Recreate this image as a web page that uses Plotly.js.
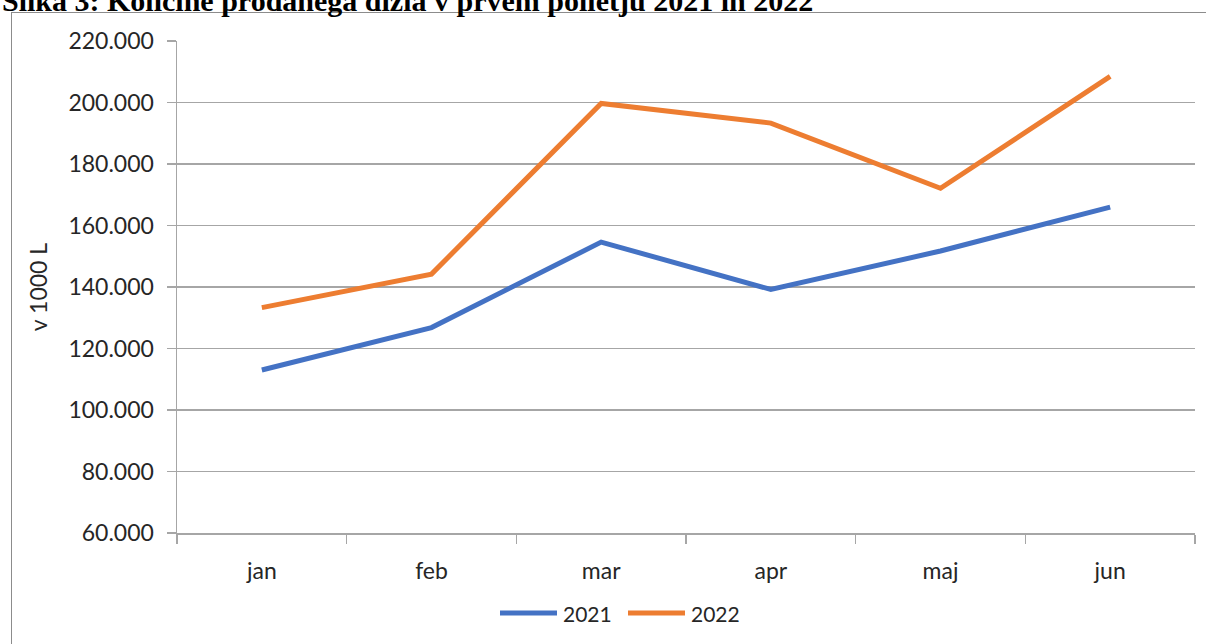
<!DOCTYPE html>
<html>
<head>
<meta charset="utf-8">
<script src="https://cdn.plot.ly/plotly-3.0.1.min.js"></script>
<style>
  html, body { margin: 0; padding: 0; background: #ffffff; overflow: hidden; }
  #frame { position: absolute; left: 11px; top: 12px; width: 1400px; height: 800px;
           border: 1px solid #8c8c8c; box-sizing: border-box; }
  #chart { position: absolute; left: 0; top: 0; width: 1206px; height: 644px; }
</style>
</head>
<body>
<div id="frame"></div>
<div id="chart"></div>
<script>
// Data (values in litres; axis shows thousands with "." separator)
const months = ["jan", "feb", "mar", "apr", "maj", "jun"];
const series2021 = [113000, 126800, 154600, 139200, 151700, 166000];
const series2022 = [133300, 144200, 199700, 193300, 172100, 208500];
const seriesNames = ["2021", "2022"];
const seriesColors = ["#4472C4", "#ED7D31"];
const titleText = "Slika 3: Količine prodanega dizla v prvem polletju 2021 in 2022";
const yTitle = "v 1000 L";

const FONT = "Lato, 'Open Sans', sans-serif";
const TXT = "#262626";

const traces = [
  { x: months, y: series2021, name: seriesNames[0], type: "scatter", mode: "lines",
    line: { color: seriesColors[0], width: 5 } },
  { x: months, y: series2022, name: seriesNames[1], type: "scatter", mode: "lines",
    line: { color: seriesColors[1], width: 5 } }
];

// plot area geometry helpers (pixel -> paper)
const ML = 177, MR = 11, MT = 41, MB = 111, W = 1206, H = 644;
const PW = W - ML - MR, PH = H - MT - MB;
const px = v => (v - ML) / PW;
const py = v => (H - MB - v) / PH;

// custom legend (long line samples like the original)
const legendY = 613;
const legendItems = [
  { x0: 500, x1: 557, tx: 561 },
  { x0: 628, x1: 685, tx: 689 }
];
const shapes = legendItems.map((it, i) => ({
  type: "line", xref: "paper", yref: "paper",
  x0: px(it.x0), x1: px(it.x1), y0: py(legendY), y1: py(legendY),
  line: { color: seriesColors[i], width: 5 }
}));
const annotations = legendItems.map((it, i) => ({
  text: seriesNames[i], xref: "paper", yref: "paper",
  x: px(it.tx), xanchor: "left", y: py(legendY), yanchor: "middle",
  showarrow: false, font: { family: FONT, size: 21, color: TXT }
}));
annotations.push({
  text: "<b>" + titleText + "</b>", xref: "paper", yref: "paper",
  x: px(0), xanchor: "left", y: py(0), yanchor: "middle",
  showarrow: false,
  font: { family: "'Liberation Serif', 'Times New Roman', serif", size: 30, color: "#000000" }
});

const layout = {
  width: W, height: H,
  margin: { l: ML, r: MR, t: MT, b: MB },
  paper_bgcolor: "rgba(0,0,0,0)",
  plot_bgcolor: "rgba(0,0,0,0)",
  separators: ",.",
  font: { family: FONT, size: 23, color: TXT },
  showlegend: false,
  xaxis: {
    type: "category", range: [-0.5, 5.5], fixedrange: true,
    showgrid: false, showline: true, linecolor: "#a6a6a6", linewidth: 1.5,
    ticks: "outside", tickson: "boundaries", ticklen: 9, tickcolor: "#a6a6a6", tickwidth: 1.5,
    tickfont: { family: FONT, size: 23, color: TXT },
    ticklabelstandoff: 17,
    zeroline: false
  },
  yaxis: {
    range: [60000, 220000], dtick: 20000, tickformat: ",d", fixedrange: true,
    showgrid: true, gridcolor: "#a6a6a6", gridwidth: 1.5,
    showline: true, linecolor: "#a6a6a6", linewidth: 1.5,
    ticks: "outside", ticklen: 9, tickcolor: "#a6a6a6", tickwidth: 1.5,
    tickfont: { family: FONT, size: 23, color: TXT },
    ticklabelstandoff: 8,
    zeroline: false,
    title: { text: yTitle, font: { family: FONT, size: 23, color: TXT }, standoff: 14 }
  },
  shapes: shapes,
  annotations: annotations
};

Plotly.newPlot("chart", traces, layout, { displayModeBar: false, staticPlot: true });
</script>
</body>
</html>
